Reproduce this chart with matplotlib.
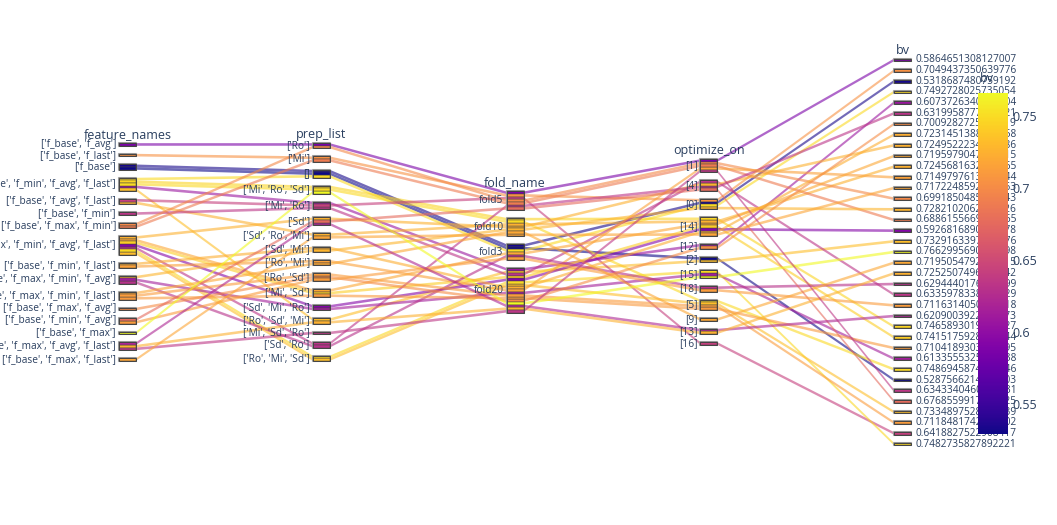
import numpy as np
import matplotlib
matplotlib.use("Agg")
import matplotlib.pyplot as plt
from matplotlib.patches import Polygon, Rectangle
from matplotlib import colors as mcolors

plt.rcParams['font.family'] = ['Open Sans', 'DejaVu Sans']

# ---- data -------------------------------------------------------------
dimension_names = ['feature_names', 'prep_list', 'fold_name', 'optimize_on', 'bv']

feature_cats = [
    "['f_base', 'f_avg']", "['f_base', 'f_last']", "['f_base']",
    "['f_base', 'f_min', 'f_avg', 'f_last']", "['f_base', 'f_avg', 'f_last']",
    "['f_base', 'f_min']", "['f_base', 'f_max', 'f_min']",
    "['f_base', 'f_max', 'f_min', 'f_avg', 'f_last']", "['f_base', 'f_min', 'f_last']",
    "['f_base', 'f_max', 'f_min', 'f_avg']", "['f_base', 'f_max', 'f_min', 'f_last']",
    "['f_base', 'f_max', 'f_avg']", "['f_base', 'f_min', 'f_avg']",
    "['f_base', 'f_max']", "['f_base', 'f_max', 'f_avg', 'f_last']",
    "['f_base', 'f_max', 'f_last']",
]
prep_cats = [
    "['Ro']", "['Mi']", "[]", "['Mi', 'Ro', 'Sd']", "['Mi', 'Ro']", "['Sd']",
    "['Sd', 'Ro', 'Mi']", "['Sd', 'Mi']", "['Ro', 'Mi']", "['Ro', 'Sd']",
    "['Mi', 'Sd']", "['Sd', 'Mi', 'Ro']", "['Ro', 'Sd', 'Mi']", "['Mi', 'Sd', 'Ro']",
    "['Sd', 'Ro']", "['Ro', 'Mi', 'Sd']",
]
fold_cats = ['fold5', 'fold10', 'fold3', 'fold20']
optimize_cats = ['[1]', '[4]', '[0]', '[14]', '[12]', '[2]', '[15]', '[18]',
                 '[5]', '[9]', '[13]', '[16]']

# bv value of every record (record order = bv category order)
bv_labels = [
    "0.5864651308127007", "0.7049437350639776", "0.5318687480759192",
    "0.7492728025735054", "0.6073726340781504", "0.6319958777104521",
    "0.7009282725462819", "0.7231451388372658", "0.7249522234815386",
    "0.7195979047236415", "0.7245681632097165", "0.7149797613528344",
    "0.7172248592651863", "0.6991850485917243", "0.7282102062584726",
    "0.6886155669213065", "0.5926816890342578", "0.7329163397106276",
    "0.7662995690524198", "0.7195054792683815", "0.7252507496318042",
    "0.6294440176035299", "0.6335978338471529", "0.7116314050962718",
    "0.6209003922186573", "0.7465893019540327", "0.7415175928306744",
    "0.7104189303827595", "0.6133555325609438", "0.7486945874153046",
    "0.5287566214870303", "0.6343340460295831", "0.6768559917462025",
    "0.7334897528019639", "0.7118481742653702", "0.6418827522908417",
    "0.7482735827892221",
]

# category index of each record in each dimension
rec_feature = [0, 1, 2, 3, 3, 7, 11, 8, 7, 7, 4, 8, 15, 6, 9, 6, 7, 3, 13, 10,
               14, 9, 5, 12, 14, 3, 7, 10, 9, 3, 2, 14, 12, 7, 10, 4, 7]
rec_prep = [0, 1, 2, 2, 4, 14, 9, 7, 5, 10, 6, 8, 6, 0, 7, 1, 11, 12, 3, 8,
            12, 14, 4, 9, 5, 3, 10, 10, 11, 3, 2, 13, 5, 15, 9, 4, 15]
rec_fold = [0, 0, 2, 2, 3, 0, 3, 3, 1, 2, 1, 3, 1, 0, 1, 0, 3, 3, 3, 1,
            3, 2, 3, 2, 3, 1, 3, 3, 3, 1, 2, 3, 0, 3, 3, 0, 3]
rec_optimize = [0, 2, 2, 2, 4, 1, 4, 3, 1, 3, 3, 0, 3, 0, 2, 0, 3, 5, 6, 9,
                10, 7, 1, 7, 10, 3, 3, 8, 6, 8, 5, 0, 1, 8, 8, 11, 6]

# ---- layout ------------------------------------------------------------
W, H = 1057, 525
box_w = 17
x_left = [119 + i * 193.75 for i in range(5)]
y_mid = 252
rec_h = 2.62
cat_pad = 8.05
text_col = '#2a3f5f'

bv = np.array([float(s) for s in bv_labels])
n = len(bv)
cats = [feature_cats, prep_cats, fold_cats, optimize_cats, bv_labels]
rec_cats = [np.array(rec_feature), np.array(rec_prep), np.array(rec_fold),
            np.array(rec_optimize), np.arange(n)]

cmap = plt.get_cmap('plasma')
norm = mcolors.Normalize(vmin=bv.min(), vmax=bv.max())
rec_color = [cmap(norm(v)) for v in bv]

# paths sorted left to right
order = sorted(range(n), key=lambda i: tuple(rc[i] for rc in rec_cats))

y_top = np.zeros((5, n))
cat_tops = []
for d in range(5):
    ncat = len(cats[d])
    counts = np.bincount(rec_cats[d], minlength=ncat)
    dim_h = n * rec_h + (ncat - 1) * cat_pad
    top = y_mid - dim_h / 2
    tops = top + np.concatenate([[0], np.cumsum(counts)[:-1]]) * rec_h + np.arange(ncat) * cat_pad
    cat_tops.append((tops, counts))
    filled = np.zeros(ncat)
    for i in order:
        c = rec_cats[d][i]
        y_top[d, i] = tops[c] + filled[c] * rec_h
        filled[c] += 1

fig = plt.figure(figsize=(W / 100, H / 100), dpi=100)
ax = fig.add_axes([0, 0, 1, 1])
ax.set_xlim(0, W)
ax.set_ylim(H, 0)
ax.axis('off')

# path bands
for i in order:
    upper = []
    lower = []
    for d in range(5):
        upper += [(x_left[d], y_top[d, i]), (x_left[d] + box_w, y_top[d, i])]
        lower += [(x_left[d], y_top[d, i] + rec_h), (x_left[d] + box_w, y_top[d, i] + rec_h)]
    poly = Polygon(upper + lower[::-1], closed=True, facecolor=rec_color[i],
                   edgecolor='none', alpha=0.6, zorder=1)
    ax.add_patch(poly)

# category boxes
for d in range(5):
    tops, counts = cat_tops[d]
    for i in range(n):
        ax.add_patch(Rectangle((x_left[d], y_top[d, i]), box_w, rec_h,
                               facecolor=rec_color[i], edgecolor='#444444',
                               lw=0.35, zorder=3))
    for c, lab in enumerate(cats[d]):
        hgt = counts[c] * rec_h
        ax.add_patch(Rectangle((x_left[d], tops[c]), box_w, hgt, facecolor='none',
                               edgecolor='#b4b4b4', lw=1.5, zorder=2.5))
        ax.add_patch(Rectangle((x_left[d], tops[c]), box_w, hgt, facecolor='none',
                               edgecolor='#444444', lw=0.7, zorder=4))
        yc = tops[c] + hgt / 2
        if d < 4:
            ax.text(x_left[d] - 3, yc, lab, ha='right', va='center',
                    fontsize=7.3, color=text_col, zorder=5)
        else:
            ax.text(x_left[d] + box_w + 5, yc, lab, ha='left', va='center',
                    fontsize=7.3, color=text_col, zorder=5)
    ax.text(x_left[d] + box_w / 2, tops[0] - 2, dimension_names[d], ha='center',
            va='bottom', fontsize=9, color=text_col, zorder=5)

# colorbar
cb_top, cb_bot = 93, 434
cax = fig.add_axes([978 / W, (H - cb_bot) / H, 30 / W, (cb_bot - cb_top) / H])
sm = plt.cm.ScalarMappable(norm=norm, cmap=cmap)
cb = fig.colorbar(sm, cax=cax, ticks=[0.55, 0.6, 0.65, 0.7, 0.75])
cb.outline.set_visible(False)
cb.ax.tick_params(length=0, pad=3, labelsize=9, labelcolor=text_col)
cb.ax.set_yticklabels(['0.55', '0.6', '0.65', '0.7', '0.75'])
fig.text(980 / W, (H - 78) / H, 'bv', ha='left', va='center', fontsize=9,
         color=text_col, zorder=10)

fig.savefig('out.png', dpi=100, facecolor='white')
